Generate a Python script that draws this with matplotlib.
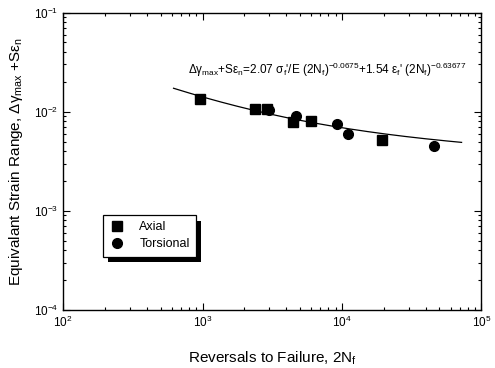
import numpy as np
import matplotlib
matplotlib.use("Agg")
import matplotlib.pyplot as plt
from matplotlib import patheffects
from matplotlib.ticker import LogLocator

plt.rcParams['font.family'] = ['Liberation Sans', 'DejaVu Sans']
plt.rcParams['mathtext.fontset'] = 'custom'
plt.rcParams['mathtext.rm'] = 'Liberation Sans'
plt.rcParams['mathtext.it'] = 'Liberation Sans:italic'
plt.rcParams['mathtext.bf'] = 'Liberation Sans:bold'
plt.rcParams['mathtext.default'] = 'regular'

# Test data: reversals to failure and equivalent strain range
axial_N = [957, 2380, 2880, 4470, 5950, 19200]
axial_strain = [0.0134, 0.0106, 0.0106, 0.0079, 0.0081, 0.0052]
torsional_N = [3000, 4670, 9230, 11100, 45300]
torsional_strain = [0.0105, 0.0091, 0.0075, 0.0060, 0.0045]

# Fitted life curve parameters
sigma_f_over_E = 0.00448
eps_f = 0.437
b_exp = -0.0675
c_exp = -0.63677
N_fit_range = [620, 72000]

fig = plt.figure(figsize=(4.95, 3.68), dpi=100)
ax = fig.add_axes([0.1273, 0.1576, 0.8454, 0.8084])

N_fit = np.logspace(np.log10(N_fit_range[0]), np.log10(N_fit_range[1]), 200)
strain_fit = 2.07 * sigma_f_over_E * N_fit ** b_exp + 1.54 * eps_f * N_fit ** c_exp
ax.plot(N_fit, strain_fit, color='black', lw=0.9)

ax.plot(axial_N, axial_strain, 's', color='black', ms=6.5, label='Axial', linestyle='none')
ax.plot(torsional_N, torsional_strain, 'o', color='black', ms=7, label='Torsional', linestyle='none')

ax.set_xscale('log')
ax.set_yscale('log')
ax.set_xlim(1e2, 1e5)
ax.set_ylim(1e-4, 1e-1)
ax.xaxis.set_major_locator(LogLocator(base=10, numticks=10))
ax.yaxis.set_major_locator(LogLocator(base=10, numticks=10))
ax.xaxis.set_minor_locator(LogLocator(base=10, subs=np.arange(2, 10), numticks=20))
ax.yaxis.set_minor_locator(LogLocator(base=10, subs=np.arange(2, 10), numticks=20))
ax.tick_params(which='both', direction='in', top=True, right=True, labelsize=8.5, width=0.8)
ax.tick_params(which='major', length=5)
ax.tick_params(which='minor', length=2.5)
for s in ax.spines.values():
    s.set_linewidth(1.0)

ax.set_xlabel('Reversals to Failure, 2N$_f$', fontsize=11, labelpad=14)
ax.set_ylabel('Equivalant Strain Range, $\\Delta\\gamma_{max}$ +S$\\epsilon_n$', fontsize=11, labelpad=6)

ax.text(0.299, 0.807,
        '$\\Delta\\gamma_{max}$+S$\\epsilon_n$=2.07 $\\sigma_f$\'/E (2N$_f$)$^{-0.0675}$'
        '+1.54 $\\epsilon_f$\' (2N$_f$)$^{-0.63677}$',
        transform=ax.transAxes, fontsize=8.5, va='center', ha='left')

leg = ax.legend(loc='upper left', bbox_to_anchor=(0.0956, 0.319), borderaxespad=0,
                fontsize=9, frameon=True, fancybox=False, edgecolor='black', framealpha=1,
                handletextpad=1.2, borderpad=0.5, labelspacing=0.4, handlelength=1.2)
frame = leg.get_frame()
frame.set_linewidth(0.9)
frame.set_path_effects([patheffects.SimplePatchShadow(offset=(3.5, -4), shadow_rgbFace='black', alpha=1),
                        patheffects.Normal()])

fig.savefig('out.png', dpi=100)
